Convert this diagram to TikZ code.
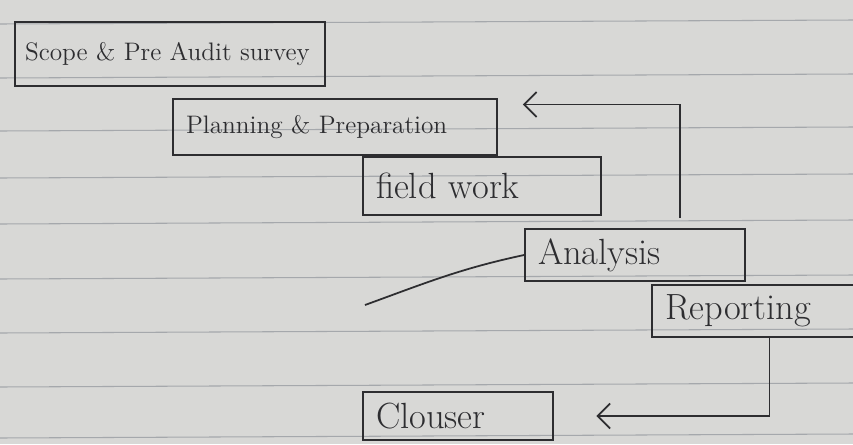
\documentclass[tikz,border=0pt]{standalone}
\usetikzlibrary{arrows.meta}
\definecolor{ink}{RGB}{45,45,48}
\definecolor{paper}{RGB}{216,216,214}
\definecolor{rule}{RGB}{165,168,172}
\begin{document}
\begin{tikzpicture}[x=0.02cm, y=-0.02cm, line width=1pt,
    >={Straight Barb[length=2.5mm,width=5mm]},
    stage/.style={draw=ink, text=ink, font=\Large, inner xsep=0.26cm, inner ysep=0pt, align=left},
    bigstage/.style={stage, font=\huge}]
    \useasboundingbox (0,0) rectangle (853,444);

    % Draw the ruled paper
    \fill[paper] (0,0) rectangle (853,444);
    \foreach \y in {24,78,131,178,224,279,333,387,438}
        \draw[rule, line width=0.6pt] (0,\y) -- (853,\y-4);

    % Draw the stages
    \node[stage, inner xsep=0.2cm, text width=5.8cm, minimum height=1.28cm] (scope) at (170,54) {Scope \& Pre Audit survey};
    \node[stage, text width=5.96cm, minimum height=1.12cm] (planning) at (335,127) {Planning \& Preparation};
    \node[bigstage, text width=4.24cm, minimum height=1.16cm] (field) at (482,186) {field work};
    \node[bigstage, text width=3.88cm, minimum height=1.04cm] (analysis) at (635,255) {Analysis};
    \node[bigstage, text width=3.88cm, minimum height=1.04cm] (reporting) at (762,311) {Reporting};
    \node[bigstage, text width=3.28cm, minimum height=0.96cm] (clouser) at (458,416) {Clouser};

    % Draw the loop back to planning
    \coordinate (loop) at (680,218);
    \draw[ink, ->] (loop) |- ([xshift=0.5cm, yshift=0.45cm]planning.east);

    % Draw the free stroke from analysis
    \coordinate (tail) at (365,305);
    \draw[ink] (analysis.west) to[out=192, in=20] (tail);

    % Draw reporting down to clouser
    \draw[ink, ->, shorten >=0.85cm] ([xshift=0.15cm]reporting.south) |- (clouser.east);
\end{tikzpicture}
\end{document}
